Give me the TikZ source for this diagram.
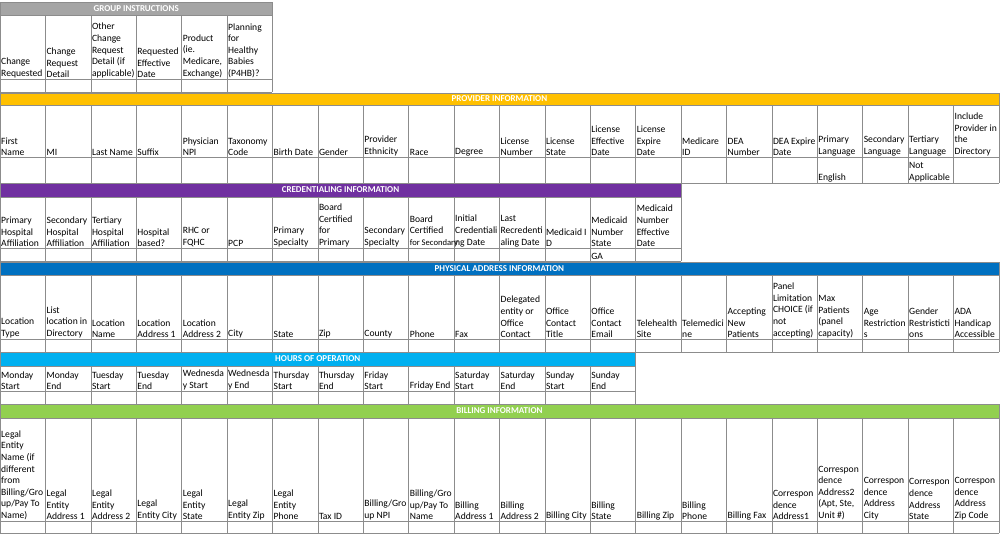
\documentclass[tikz,border=0pt]{standalone}
\usepackage{fontspec}
\setmainfont{Carlito}
\definecolor{grphead}{HTML}{A5A5A5}
\definecolor{provhead}{HTML}{FFC000}
\definecolor{credhead}{HTML}{7030A0}
\definecolor{addrhead}{HTML}{0070C0}
\definecolor{hourhead}{HTML}{00B0F0}
\definecolor{billhead}{HTML}{92D050}
\tikzset{
  cell/.style={anchor=south west, align=left, inner sep=1pt, font=\fontsize{9.6}{11.6}\selectfont},
  headtxt/.style={text=white, font=\fontsize{9}{10}\selectfont\bfseries},
  grid/.style={draw=black!45, line width=0.6pt}
}
\def\cw{45.4}
% block: y0 y1 (header), y2 (labels bottom), y3 (blank bottom), n cols, colour, title, name
\newcommand\tblock[8]{
  \fill[#6] (0,#1) rectangle ({#5*\cw},#2);
  \node[headtxt] (#8) at ({#5*\cw/2},{(#1+#2)/2}) {#7};
  \foreach \k in {0,...,#5} \draw[grid] ({\k*\cw},#2) -- ({\k*\cw},#3);
  \draw[grid] (0,#2) -- ({#5*\cw},#2);
  \draw[grid] (0,#3) -- ({#5*\cw},#3);
  \draw[grid] (0,#4) -- ({#5*\cw},#4);
  \draw[grid] (0,#1) rectangle ({#5*\cw},#2);
}
\begin{document}
\begin{tikzpicture}[x=1pt,y=-1pt]
    \useasboundingbox (0,0) rectangle (1000,535);

    % group instructions
    \tblock{2}{15}{92}{79}{6}{grphead}{GROUP INSTRUCTIONS}{grp}
    \foreach \t [count=\i from 0] in {{Change\\Requested},{Change\\Request\\Detail},{Other\\Change\\Request\\Detail (if\\applicable)},{Requested\\Effective\\Date},{Product\\(ie.\\Medicare,\\Exchange)},{Planning\\for\\Healthy\\Babies\\(P4HB)?}}
        \node[cell] (g\i) at ({\i*\cw},79) {\t};

    % provider information
    \tblock{93}{105}{183}{157}{22}{provhead}{PROVIDER INFORMATION}{prov}
    \foreach \t [count=\i from 0] in {{First\\Name},{MI},{Last Name},{Suffix},{Physician\\NPI},{Taxonomy\\Code},{Birth Date},{Gender},{Provider\\Ethnicity},{Race},{Degree},{License\\Number},{License\\State},{License\\Effective\\Date},{License\\Expire\\Date},{Medicare\\ID},{DEA\\Number},{DEA Expire\\Date},{Primary\\Language},{Secondary\\Language},{Tertiary\\Language},{Include\\Provider in\\the\\Directory}}
        \node[cell] (p\i) at ({\i*\cw},157) {\t};
    \node[cell] (eng) at ({18*\cw},183) {English};
    \node[cell] (notap) at ({20*\cw},183) {Not\\Applicable};

    % credentialing information
    \tblock{183}{197}{261}{248}{15}{credhead}{CREDENTIALING INFORMATION}{cred}
    \foreach \t [count=\i from 0] in {{Primary\\Hospital\\Affiliation},{Secondary\\Hospital\\Affiliation},{Tertiary\\Hospital\\Affiliation},{Hospital\\based?},{RHC or\\FQHC},{PCP},{Primary\\Specialty},{Board\\Certified\\for\\Primary},{Secondary\\Specialty},{Board\\Certified\\{\fontsize{8.6}{11.6}\selectfont for Secondary}},{Initial\\Credentiali\\ng Date},{Last\\Recredenti\\aling Date},{Medicaid I\\D},{Medicaid\\Number\\State},{Medicaid\\Number\\Effective\\Date}}
        \node[cell] (c\i) at ({\i*\cw},248) {\t};
    \node[cell] (ga) at ({13*\cw},261) {GA};

    % physical address information
    \tblock{262}{275}{352}{339}{22}{addrhead}{PHYSICAL ADDRESS INFORMATION}{addr}
    \foreach \t [count=\i from 0] in {{Location\\Type},{List\\location in\\Directory},{Location\\Name},{Location\\Address 1},{Location\\Address 2},{City},{State},{Zip},{County},{Phone},{Fax},{Delegated\\entity or\\Office\\Contact},{Office\\Contact\\Title},{Office\\Contact\\Email},{Telehealth\\Site},{Telemedici\\ne},{Accepting\\New\\Patients},{Panel\\Limitation\\CHOICE (if\\not\\accepting)},{Max\\Patients\\(panel\\capacity)},{Age\\Restriction\\s},{Gender\\Restristicti\\ons},{ADA\\Handicap\\Accessible}}
        \node[cell] (a\i) at ({\i*\cw},339) {\t};

    % hours of operation
    \tblock{352}{366}{404}{391}{14}{hourhead}{HOURS OF OPERATION}{hour}
    \foreach \t [count=\i from 0] in {{Monday\\Start},{Monday\\End},{Tuesday\\Start},{Tuesday\\End},{Wednesda\\y Start},{Wednesda\\y End},{Thursday\\Start},{Thursday\\End},{Friday\\Start},{Friday End},{Saturday\\Start},{Saturday\\End},{Sunday\\Start},{Sunday\\End}}
        \node[cell] (h\i) at ({\i*\cw},391) {\t};

    % billing information
    \tblock{404}{418}{533}{521}{22}{billhead}{BILLING INFORMATION}{bill}
    \foreach \t [count=\i from 0] in {{Legal\\Entity\\Name (if\\different\\from\\Billing/Gro\\up/Pay To\\Name)},{Legal\\Entity\\Address 1},{Legal\\Entity\\Address 2},{Legal\\Entity City},{Legal\\Entity\\State},{Legal\\Entity Zip},{Legal\\Entity\\Phone},{Tax ID},{Billing/Gro\\up NPI},{Billing/Gro\\up/Pay To\\Name},{Billing\\Address 1},{Billing\\Address 2},{Billing City},{Billing\\State},{Billing Zip},{Billing\\Phone},{Billing Fax},{Correspon\\dence\\Address1},{Correspon\\dence\\Address2\\(Apt, Ste,\\Unit \#)},{Correspon\\dence\\Address\\City},{Correspon\\dence\\Address\\State},{Correspon\\dence\\Address\\Zip Code}}
        \node[cell] (b\i) at ({\i*\cw},521) {\t};
\end{tikzpicture}
\end{document}
